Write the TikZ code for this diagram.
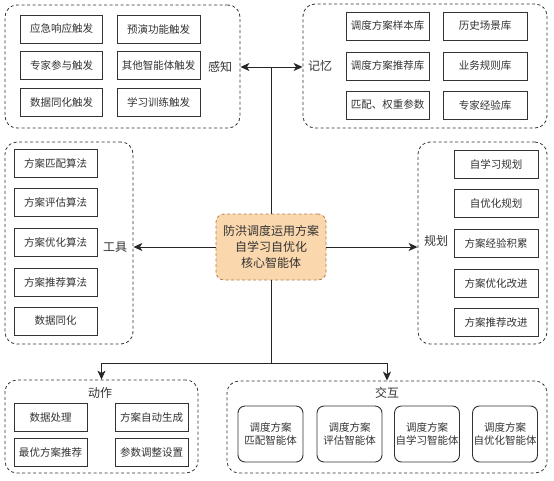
\documentclass[tikz,border=0pt]{standalone}
\usepackage{fontspec}
\setmainfont{Noto Sans CJK SC}
\usetikzlibrary{arrows.meta}
\definecolor{ink}{HTML}{333333}
\definecolor{cfill}{HTML}{FAD7AC}
\definecolor{cdraw}{HTML}{B0804A}
\begin{document}
\begin{tikzpicture}[x=1pt,y=-1pt,
  grp/.style={draw=ink,line width=0.8pt,dash pattern=on 3pt off 2.5pt,rounded corners=12pt,minimum width=#1,inner sep=0pt},
  ibox/.style={draw=ink,line width=0.9pt,inner sep=0pt,minimum height=28pt,minimum width=#1,text=ink,font=\fontsize{10.5}{12}\selectfont},
  rbox/.style={draw=ink,line width=0.9pt,inner sep=0pt,rounded corners=7pt,minimum height=56pt,minimum width=65pt,text=ink,align=center,font=\fontsize{10.5}{13.5}\selectfont},
  lbl/.style={text=ink,font=\fontsize{12}{14}\selectfont,inner sep=0pt},
  conn/.style={draw=black!85,line width=0.9pt},
  arr/.style={conn,-{Stealth[length=9pt,width=8pt,inset=2.5pt]}}]
\useasboundingbox (0,0) rectangle (554,480);
% groups
\node[grp=235pt,minimum height=123pt] (G1) at (122.5,66.5) {};
\node[grp=244pt,minimum height=124pt] (G2) at (425,66) {};
\node[grp=128pt,minimum height=202pt] (G3) at (69,243) {};
\node[grp=129pt,minimum height=202pt] (G4) at (482.5,243) {};
\node[grp=193pt,minimum height=93pt] (G5) at (101.5,426.5) {};
\node[grp=320pt,minimum height=92pt] (G6) at (387,427) {};
% labels
\node[lbl] (L1) at (220,67) {感知};
\node[lbl] (L2) at (320,66) {记忆};
\node[lbl] (L3) at (115,247) {工具};
\node[lbl] (L4) at (436,241) {规划};
\node[lbl] (L5) at (100,393) {动作};
\node[lbl] (L6) at (387,393) {交互};
% perception
\node[ibox=82pt] (a1) at (61.5,29) {应急响应触发};
\node[ibox=83pt] (a2) at (158.5,29) {预演功能触发};
\node[ibox=82pt] (a3) at (61.5,65.5) {专家参与触发};
\node[ibox=83pt] (a4) at (158.5,65.5) {其他智能体触发};
\node[ibox=82pt] (a5) at (61.5,102) {数据同化触发};
\node[ibox=83pt] (a6) at (158.5,102) {学习训练触发};
% memory
\node[ibox=83pt] (b1) at (387.5,26) {调度方案样本库};
\node[ibox=84pt] (b2) at (485,26) {历史场景库};
\node[ibox=83pt] (b3) at (387.5,66) {调度方案推荐库};
\node[ibox=84pt] (b4) at (485,66) {业务规则库};
\node[ibox=83pt] (b5) at (387.5,105) {匹配、权重参数};
\node[ibox=84pt] (b6) at (485,105) {专家经验库};
% tools
\node[ibox=83pt] (c1) at (55.5,163) {方案匹配算法};
\node[ibox=83pt] (c2) at (55.5,202.5) {方案评估算法};
\node[ibox=83pt] (c3) at (55.5,242) {方案优化算法};
\node[ibox=83pt] (c4) at (55.5,282) {方案推荐算法};
\node[ibox=83pt] (c5) at (55.5,321) {数据同化};
% planning
\node[ibox=84pt] (d1) at (496,164) {自学习规划};
\node[ibox=84pt] (d2) at (496,203.5) {自优化规划};
\node[ibox=84pt] (d3) at (496,243.5) {方案经验积累};
\node[ibox=84pt] (d4) at (496,283) {方案优化改进};
\node[ibox=84pt] (d5) at (496,322) {方案推荐改进};
% action
\node[ibox=73pt] (e1) at (50.5,417.5) {数据处理};
\node[ibox=73pt] (e2) at (151.5,417.5) {方案自动生成};
\node[ibox=73pt] (e3) at (50.5,452) {最优方案推荐};
\node[ibox=73pt] (e4) at (151.5,452) {参数调整设置};
% interaction
\node[rbox] (f1) at (270.5,434) {调度方案\\匹配智能体};
\node[rbox] (f2) at (349.5,434) {调度方案\\评估智能体};
\node[rbox] (f3) at (427,434) {调度方案\\自学习智能体};
\node[rbox] (f4) at (505,434) {调度方案\\自优化智能体};
% center
\node[draw=cdraw,fill=cfill,line width=0.8pt,dash pattern=on 3pt off 2.5pt,rounded corners=8pt,
  minimum width=110pt,minimum height=66pt,inner sep=0pt,align=center,text=ink,
  font=\fontsize{12}{16}\selectfont] (C) at (271,247) {防洪调度运用方案\\自学习自优化\\核心智能体};
% connectors
\coordinate (tj) at (271,67);
\coordinate (bj) at (271,363);
\draw[conn] (C.north) -- (tj);
\draw[arr] (tj) -- (tj -| G1.east);
\draw[arr] (tj) -- (tj -| G2.west);
\draw[arr] (C.west) -- (C.west -| G3.east);
\draw[arr] (C.east) -- (C.east -| G4.west);
\draw[conn] (C.south) -- (bj);
\draw[arr] (bj) -| (G5.north);
\draw[arr] (bj) -| (G6.north);
\end{tikzpicture}
\end{document}
